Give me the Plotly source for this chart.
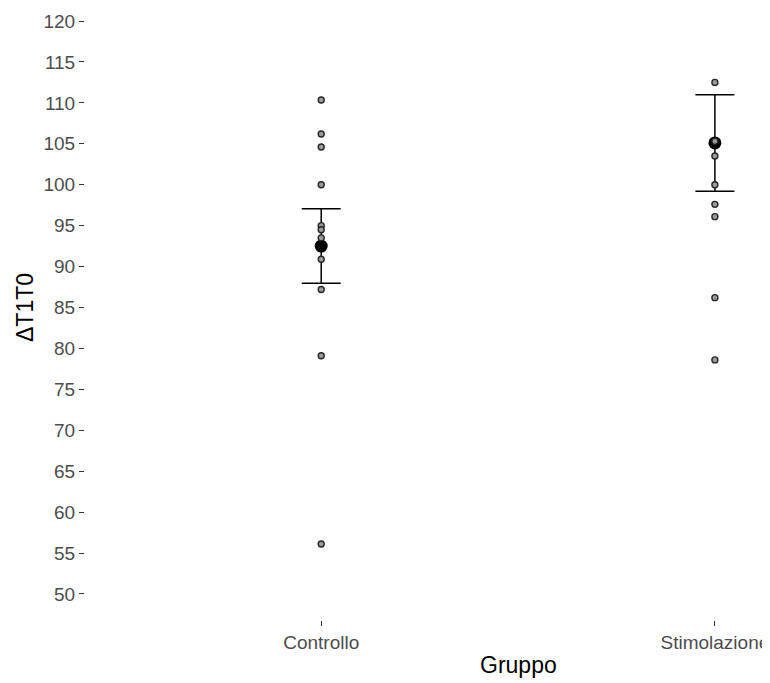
import plotly.graph_objects as go

categories = ["Controllo", "Stimolazione"]
controllo_values = [110.35, 106.2, 104.6, 100.0, 95.0, 94.5, 93.5, 90.9, 87.2, 79.1, 56.1]
stimolazione_values = [112.5, 105.3, 103.5, 100.0, 97.6, 96.1, 86.2, 78.6]
group_means = [92.5, 105.1]
group_se = [4.55, 5.9]
y_ticks = list(range(50, 125, 5))

fig = go.Figure()

fig.add_trace(go.Scatter(
    x=categories, y=group_means, mode="markers",
    marker=dict(color="black", size=13),
    error_y=dict(type="data", array=group_se, visible=True,
                 color="black", thickness=1.5, width=19.5),
    showlegend=False, hoverinfo="skip",
))

fig.add_trace(go.Scatter(
    x=[categories[0]] * len(controllo_values), y=controllo_values, mode="markers",
    marker=dict(color="#9a9a9a", size=6, line=dict(color="#262626", width=1.4)),
    showlegend=False,
))
fig.add_trace(go.Scatter(
    x=[categories[1]] * len(stimolazione_values), y=stimolazione_values, mode="markers",
    marker=dict(color="#9a9a9a", size=6, line=dict(color="#262626", width=1.4)),
    showlegend=False,
))

fig.add_annotation(
    text="Gruppo", xref="x", x=0.5, yref="paper", y=-0.0735,
    xanchor="center", yanchor="middle", showarrow=False,
    font=dict(size=23, color="black"),
)
fig.add_annotation(
    text="ΔT1T0", xref="paper", x=-0.0876, yref="paper", y=0.5114,
    xanchor="center", yanchor="middle", showarrow=False, textangle=-90,
    font=dict(size=23, color="black"),
)

fig.update_layout(
    width=770, height=683,
    margin=dict(l=77, r=8, t=0, b=71),
    paper_bgcolor="white", plot_bgcolor="white",
    font=dict(family="Liberation Sans, Arial, sans-serif"),
    xaxis=dict(
        type="category", categoryorder="array", categoryarray=categories,
        range=[-0.6, 1.14], showgrid=False, zeroline=False, showline=False,
        ticks="outside", ticklen=5, tickcolor="#333333", tickwidth=1,
        tickfont=dict(size=19, color="#4d4d4d"),
    ),
    yaxis=dict(
        range=[46.82, 121.59], tickvals=y_ticks,
        showgrid=False, zeroline=False, showline=False,
        ticks="outside", ticklen=5, tickcolor="#333333", tickwidth=1,
        tickfont=dict(size=19, color="#4d4d4d"),
    ),
)

fig.write_html("out.html")
